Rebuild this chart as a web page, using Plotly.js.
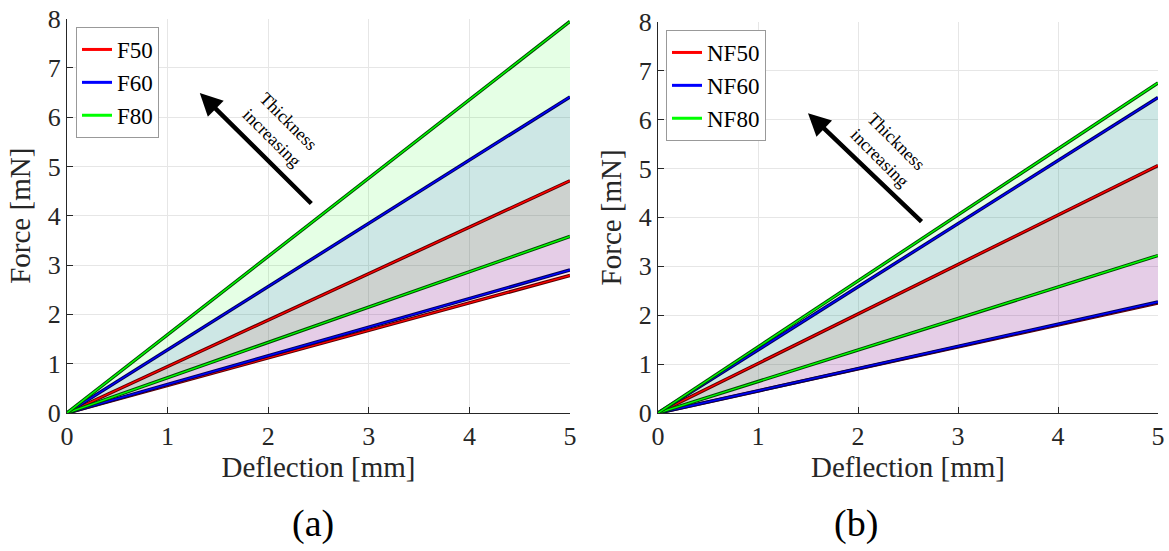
<!DOCTYPE html>
<html>
<head>
<meta charset="utf-8">
<script src="https://cdn.plot.ly/plotly-3.0.1.min.js"></script>
<style>html,body{margin:0;padding:0;background:#fff;}#chart{width:1169px;height:551px;}</style>
</head>
<body>
<div id="chart"></div>
<script>
// Deflection [mm]
var deflection = [0, 5];
// Panel (a): force [mN] band edges (lower / upper) per thickness
var F50_low = [0, 2.79], F50_up = [0, 4.71];
var F60_low = [0, 2.90], F60_up = [0, 6.41];
var F80_low = [0, 3.58], F80_up = [0, 7.94];
// Panel (b)
var NF50_low = [0, 2.25], NF50_up = [0, 5.06];
var NF60_low = [0, 2.27], NF60_up = [0, 6.45];
var NF80_low = [0, 3.22], NF80_up = [0, 6.75];

var namesA = ['F50', 'F60', 'F80'];
var namesB = ['NF50', 'NF60', 'NF80'];
var colors = ['#ff0000', '#0000ff', '#00ff00'];
var fills = ['rgba(255,0,0,0.1)', 'rgba(0,0,255,0.1)', 'rgba(0,255,0,0.1)'];
var darks = ['#5a0000', '#00005a', '#004a00'];

function panel(lows, ups, names, xa, ya, legendId) {
  var tr = [];
  for (var i = 0; i < 3; i++) {
    tr.push({x: deflection, y: lows[i], xaxis: xa, yaxis: ya, mode: 'lines', line: {width: 0, color: colors[i]}, showlegend: false, hoverinfo: 'skip'});
    tr.push({x: deflection, y: ups[i], xaxis: xa, yaxis: ya, mode: 'lines', line: {width: 0, color: colors[i]}, fill: 'tonexty', fillcolor: fills[i], showlegend: false, hoverinfo: 'skip'});
  }
  for (var i = 0; i < 3; i++) {
    [lows[i], ups[i]].forEach(function (ys) {
      tr.push({x: deflection, y: ys, xaxis: xa, yaxis: ya, mode: 'lines', line: {width: 3.4, color: darks[i]}, showlegend: false, hoverinfo: 'skip'});
      tr.push({x: deflection, y: ys, xaxis: xa, yaxis: ya, mode: 'lines', line: {width: 1.4, color: colors[i]}, showlegend: false, hoverinfo: 'skip'});
    });
  }
  for (var i = 0; i < 3; i++) {
    tr.push({x: [null], y: [null], xaxis: xa, yaxis: ya, mode: 'lines', name: names[i], line: {width: 3, color: colors[i]}, legend: legendId, showlegend: true});
  }
  return tr;
}

var data = panel([F50_low, F60_low, F80_low], [F50_up, F60_up, F80_up], namesA, 'x', 'y', 'legend')
  .concat(panel([NF50_low, NF60_low, NF80_low], [NF50_up, NF60_up, NF80_up], namesB, 'x2', 'y2', 'legend2'));

var FONT = '"Times New Roman", "Liberation Serif", "DejaVu Serif", serif';
var axCommon = {
  showline: true, linecolor: '#262626', linewidth: 1, mirror: false,
  ticks: 'inside', ticklen: 6, tickcolor: '#262626', tickwidth: 1,
  showgrid: true, gridcolor: '#e6e6e6', gridwidth: 1, zeroline: false,
  tickfont: {family: FONT, size: 26, color: '#262626'}, dtick: 1, tick0: 0, fixedrange: true
};
function ax(extra) { return Object.assign({}, axCommon, extra); }

var titleFont = {family: FONT, size: 29, color: '#262626'};
var legendFont = {family: FONT, size: 23, color: '#000'};

var layout = {
  width: 1169, height: 551,
  margin: {l: 0, r: 0, t: 0, b: 0},
  paper_bgcolor: '#fff', plot_bgcolor: '#fff',
  font: {family: FONT},
  xaxis: ax({domain: [67/1169, 570/1169], range: [0, 5], anchor: 'y', title: {text: 'Deflection [mm]', font: titleFont, standoff: 2}}),
  yaxis: ax({domain: [(551-413)/551, (551-18.5)/551], range: [0, 8], anchor: 'x', title: {text: 'Force [mN]', font: titleFont, standoff: 8}}),
  xaxis2: ax({domain: [658/1169, 1158/1169], range: [0, 5], anchor: 'y2', title: {text: 'Deflection [mm]', font: titleFont, standoff: 2}}),
  yaxis2: ax({domain: [(551-413)/551, (551-21.7)/551], range: [0, 8], anchor: 'x2', title: {text: 'Force [mN]', font: titleFont, standoff: 8}}),
  legend: {x: 76/1169, y: 1 - 27/551, xanchor: 'left', yanchor: 'top', traceorder: 'normal', bgcolor: '#fff', bordercolor: '#999', borderwidth: 1, font: legendFont, itemwidth: 30, tracegroupgap: 0},
  legend2: {x: 666/1169, y: 1 - 30/551, xanchor: 'left', yanchor: 'top', traceorder: 'normal', bgcolor: '#fff', bordercolor: '#999', borderwidth: 1, font: legendFont, itemwidth: 30, tracegroupgap: 0},
  annotations: [
    {xref: 'x', yref: 'y', x: 1.32, y: 6.49, axref: 'pixel', ayref: 'pixel', ax: 113, ay: 112, showarrow: true, arrowhead: 2, arrowsize: 1, arrowwidth: 4.5, arrowcolor: '#000', text: ''},
    {xref: 'x', yref: 'y', x: 2.12, y: 5.74, text: 'Thickness<br>increasing', showarrow: false, textangle: 45, font: {family: FONT, size: 18, color: '#000'}},
    {xref: 'x2', yref: 'y2', x: 1.50, y: 6.13, axref: 'pixel', ayref: 'pixel', ax: 115, ay: 110, showarrow: true, arrowhead: 2, arrowsize: 1, arrowwidth: 4.5, arrowcolor: '#000', text: ''},
    {xref: 'x2', yref: 'y2', x: 2.30, y: 5.38, text: 'Thickness<br>increasing', showarrow: false, textangle: 45, font: {family: FONT, size: 18, color: '#000'}},
    {xref: 'paper', yref: 'paper', x: 290/1169, y: 0, yanchor: 'bottom', yshift: 4, text: '(a)', showarrow: false, font: {family: FONT, size: 38, color: '#000'}},
    {xref: 'paper', yref: 'paper', x: 880/1169, y: 0, yanchor: 'bottom', yshift: 4, text: '(b)', showarrow: false, font: {family: FONT, size: 38, color: '#000'}}
  ]
};

Plotly.newPlot('chart', data, layout, {staticPlot: true, displayModeBar: false});
</script>
</body>
</html>
